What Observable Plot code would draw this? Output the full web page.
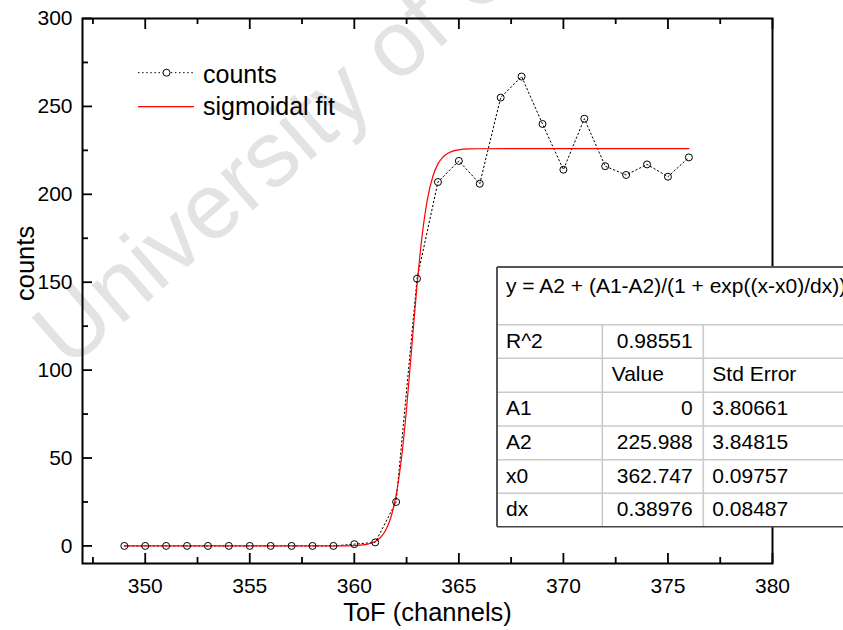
<!DOCTYPE html>
<html>
<head>
<meta charset="utf-8">
<script src="https://cdn.jsdelivr.net/npm/d3@7"></script>
<script src="https://cdn.jsdelivr.net/npm/@observablehq/plot@0.6"></script>
<style>
html, body { margin: 0; padding: 0; background: #fff; overflow: hidden; }
#chart svg { display: block; }
</style>
</head>
<body>
<div id="chart"></div>
<script>
// ---- data ----
const channels = [349,350,351,352,353,354,355,356,357,358,359,360,361,362,363,364,365,366,367,368,369,370,371,372,373,374,375,376];
const counts   = [0,0,0,0,0,0,0,0,0,0,0,1,2,25,152,207,219,206,255,267,240,214,243,216,211,217,210,221];

// points
const fitX = [349,355,359,360,360.5,361,361.25,361.5,361.75,362,362.25,362.5,362.75,363,363.25,363.5,363.75,364,364.25,364.5,365,365.5,366,370,376];
const fitY = [0,0,0,0.2,0.7,2.5,4.8,8.9,16.3,29,49.3,78.3,113.4,148.4,177.2,197.4,210,217.3,221.3,223.5,225.3,225.8,225.9,226,226];

const xMajorTicks = [350,355,360,365,370,375,380];
const xMinorTicks = [347.5,352.5,357.5,362.5,367.5,372.5,377.5];
const yMajorTicks = [0,50,100,150,200,250,300];
const yMinorTicks = [25,75,125,175,225,275];

const xLabel = "ToF (channels)";
const yLabel = "counts";
const legendLabels = ["counts", "sigmoidal fit"];
const watermark = ["University of Cape Town"];

const equation = "y = A2 + (A1-A2)/(1 + exp((x-x0)/dx))";
const rSquaredLabel = "R^2";
const rSquared = "0.98551";
const tableHeaders = ["", "Value", "Std Error"];
const paramNames  = ["A1", "A2", "x0", "dx"];
const paramValues = ["0", "225.988", "362.747", "0.38976"];
const paramErrors = ["3.80661", "3.84815", "0.09757", "0.08487"];

// ---- layout ----
const W = 843, H = 630;
const mL = 82, mT = 18, mR = 71, mB = 67;
const innerW = W - mL - mR, innerH = H - mT - mB;
const FONT = "'Liberation Sans', Arial, Helvetica, sans-serif";

const points = channels.map((x, i) => ({x, y: counts[i]}));
const fit = fitX.map((x, i) => ({x, y: fitY[i]}));

const svg = Plot.plot({
  width: W, height: H,
  marginLeft: mL, marginTop: mT, marginRight: mR, marginBottom: mB,
  style: {fontFamily: FONT, background: "#fff", color: "#000"},
  x: {domain: [347, 380]},
  y: {domain: [-10, 300]},
  marks: [
    Plot.text(watermark, {
      frameAnchor: "top-left", text: d => d, dx: -14, dy: 352,
      rotate: -41, textAnchor: "start", lineAnchor: "bottom",
      fontSize: 93, fill: "#e3e3e3"
    }),
    Plot.line(points, {x: "x", y: "y", stroke: "#000", strokeWidth: 1, strokeDasharray: "1.5,2.6"}),
    Plot.line(fit, {x: "x", y: "y", stroke: "#ff0000", strokeWidth: 1.2, curve: "monotone-x"}),
    Plot.dot(points, {x: "x", y: "y", r: 3.5, stroke: "#000", strokeWidth: 1, fill: "none"}),
    // inward ticks
    Plot.ruleX(xMajorTicks, {x: d => d, insetTop: innerH - 10, stroke: "#000", strokeWidth: 1.8}),
    Plot.ruleX(xMinorTicks, {x: d => d, insetTop: innerH - 6, stroke: "#000", strokeWidth: 1.8}),
    Plot.ruleX(xMajorTicks, {x: d => d, insetBottom: innerH - 11, stroke: "#000", strokeWidth: 1.8}),
    Plot.ruleX(xMinorTicks, {x: d => d, insetBottom: innerH - 6, stroke: "#000", strokeWidth: 1.8}),
    Plot.ruleY(yMajorTicks, {y: d => d, insetRight: innerW - 10, stroke: "#000", strokeWidth: 1.8}),
    Plot.ruleY(yMinorTicks, {y: d => d, insetRight: innerW - 6, stroke: "#000", strokeWidth: 1.8}),
    Plot.frame({stroke: "#000", strokeWidth: 2}),
    Plot.axisX({ticks: xMajorTicks, tickSize: 0, tickPadding: 15, fontSize: 21, label: null}),
    Plot.axisY({ticks: yMajorTicks, tickSize: 0, tickPadding: 10, fontSize: 21, label: null}),
    Plot.text([xLabel], {frameAnchor: "bottom", text: d => d, dy: 57, lineAnchor: "bottom", fontSize: 25.5}),
    Plot.text([yLabel], {frameAnchor: "left", text: d => d, dx: -49, dy: 10, rotate: -90, lineAnchor: "bottom", fontSize: 25.5})
  ]
});

document.getElementById("chart").appendChild(svg);
const root = d3.select(svg);

// ---- legend ----
const lg = root.append("g").attr("font-family", FONT).attr("font-size", 25).attr("text-anchor", "start").attr("fill", "#000");
const legendY = [72.7, 106.7];
lg.append("line").attr("x1", 138).attr("x2", 193).attr("y1", legendY[0]).attr("y2", legendY[0])
  .attr("stroke", "#000").attr("stroke-width", 1).attr("stroke-dasharray", "1.5,2.6");
lg.append("circle").attr("cx", 166.5).attr("cy", legendY[0]).attr("r", 3.5)
  .attr("fill", "#fff").attr("stroke", "#000").attr("stroke-width", 1);
lg.append("line").attr("x1", 138).attr("x2", 194).attr("y1", legendY[1]).attr("y2", legendY[1])
  .attr("stroke", "#ff0000").attr("stroke-width", 1.2);
lg.selectAll("text.lbl").data(legendLabels).join("text")
  .attr("x", 203).attr("y", (d, i) => [82.7, 115][i]).attr("text-anchor", "start").text(d => d);

// ---- fit table ----
const tb = root.append("g").attr("font-family", FONT).attr("font-size", 21).attr("text-anchor", "start").attr("fill", "#000");
const tx0 = 497, ty0 = 267, tyEnd = 526.7;
const colX = [602.3, 703.3];
const rowTops = [324.7, 358.3, 392.3, 426, 459.7, 493.3];
tb.append("rect").attr("x", tx0).attr("y", ty0).attr("width", 400).attr("height", tyEnd - ty0).attr("fill", "#fff");
// inner grid
rowTops.forEach(y => tb.append("line").attr("x1", tx0).attr("x2", W + 5).attr("y1", y).attr("y2", y)
  .attr("stroke", "#cacaca").attr("stroke-width", 1.6));
colX.forEach(x => tb.append("line").attr("x1", x).attr("x2", x).attr("y1", rowTops[0]).attr("y2", tyEnd)
  .attr("stroke", "#cacaca").attr("stroke-width", 1.6));
// outer border
tb.append("line").attr("x1", tx0).attr("x2", W + 5).attr("y1", ty0).attr("y2", ty0).attr("stroke", "#555").attr("stroke-width", 2);
tb.append("line").attr("x1", tx0).attr("x2", W + 5).attr("y1", tyEnd).attr("y2", tyEnd).attr("stroke", "#444").attr("stroke-width", 1.6);
tb.append("line").attr("x1", tx0).attr("x2", tx0).attr("y1", ty0).attr("y2", tyEnd).attr("stroke", "#444").attr("stroke-width", 1.8);
// texts
tb.append("text").attr("x", 506).attr("y", 293.3).attr("text-anchor", "start").text(equation);
const rows = [
  [rSquaredLabel, rSquared, ""],
  tableHeaders,
  ...paramNames.map((n, i) => [n, paramValues[i], paramErrors[i]])
];
rows.forEach((r, i) => {
  const base = rowTops[i] + 23;
  tb.append("text").attr("x", 506).attr("y", base).attr("text-anchor", "start").text(r[0]);
  if (i === 1) tb.append("text").attr("x", 611.7).attr("y", base).attr("text-anchor", "start").text(r[1]);
  else tb.append("text").attr("x", 692.7).attr("y", base).attr("text-anchor", "end").text(r[1]);
  tb.append("text").attr("x", 712.3).attr("y", base).attr("text-anchor", "start").text(r[2]);
});
</script>
</body>
</html>
